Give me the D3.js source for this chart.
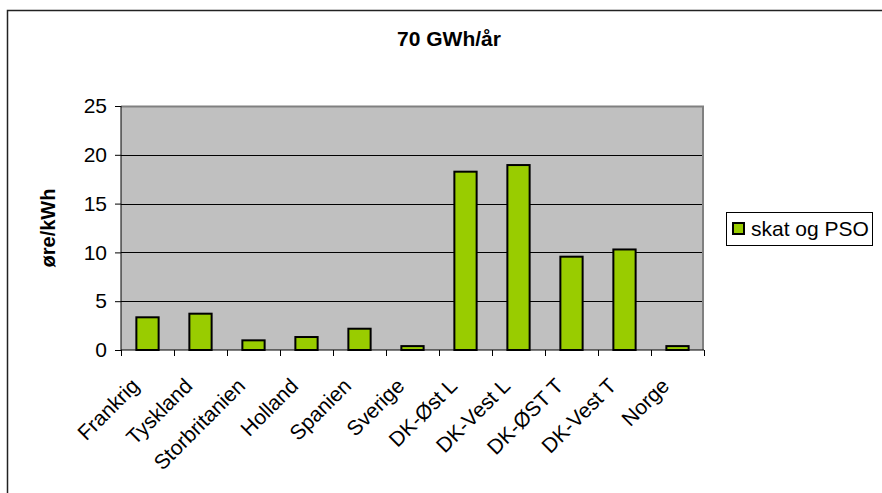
<!DOCTYPE html>
<html>
<head>
<meta charset="utf-8">
<style>
  body { margin:0; background:#fff; }
  svg text { font-family: "Liberation Sans", Arial, sans-serif; fill:#000; }
  .grid line { stroke:#000; stroke-width:1; }
  .bar { fill:#99cc00; stroke:#000; stroke-width:2; }
  .axis path, .axis line { stroke:#000; }
  .axis text { font-size:21px; }
</style>
</head>
<body>
<svg width="882" height="493"></svg>
<script src="https://cdn.jsdelivr.net/npm/d3@7"></script>
<script>

var categories = ["Frankrig","Tyskland","Storbritanien","Holland","Spanien","Sverige",
                  "DK-Øst L","DK-Vest L","DK-ØST T","DK-Vest T","Norge"]
var values = [3.35, 3.72, 0.99, 1.33, 2.18, 0.4, 18.27, 18.95, 9.56, 10.3, 0.4]
var yTicks = [0, 5, 10, 15, 20, 25]
var seriesName = "skat og PSO"
var title = "70 GWh/år"
var yLabel = "øre/kWh"

var svg = d3.select("svg"),
    margin = {left:121, top:106, right:178, bottom:143},
    width = +svg.attr("width") - margin.left - margin.right,
    height = +svg.attr("height") - margin.top - margin.bottom

// outer frame
svg.append("rect")
  .attr("x", 7.5).attr("y", 10.5)
  .attr("width", 900).attr("height", 600)
  .attr("fill", "#fff").attr("stroke", "#222").attr("stroke-width", 1.5)

svg.append("text")
  .attr("x", 449).attr("y", 46)
  .attr("text-anchor", "middle")
  .style("font-size", "21px").style("font-weight", "bold")
  .text(title)

var x = d3.scaleBand().domain(categories).range([0, width]).paddingInner(0.58).paddingOuter(0.29)
var y = d3.scaleLinear().domain([0, 25]).range([height, 0])

var g = svg.append("g").attr("transform", "translate(" + margin.left + "," + margin.top + ")")

g.append("rect")
  .attr("width", width).attr("height", height)
  .attr("fill", "#c0c0c0")

g.append("g").attr("class", "grid")
  .selectAll("line")
  .data(yTicks.slice(1, -1))
  .enter().append("line")
  .attr("x1", 0).attr("x2", width)
  .attr("y1", function(d) { return Math.round(y(d)) + 0.5 })
  .attr("y2", function(d) { return Math.round(y(d)) + 0.5 })

// gray top and right edges of the plot area
g.append("path")
  .attr("d", "M0,0.5H" + (width - 1) + "V" + height)
  .attr("fill", "none").attr("stroke", "#808080").attr("stroke-width", 2)

g.selectAll(".bar")
  .data(values)
  .enter().append("rect")
  .attr("class", "bar")
  .attr("x", function(d, i) { return x(categories[i]) })
  .attr("width", x.bandwidth())
  .attr("y", function(d) { return y(d) })
  .attr("height", function(d) { return height - y(d) })

// y axis
var yAxis = g.append("g").attr("class", "axis")
  .call(d3.axisLeft(y).tickValues(yTicks).tickSize(6).tickPadding(8))
yAxis.select(".domain").attr("d", "M0,0V" + height)

// x axis with ticks at category boundaries
var xAxis = g.append("g").attr("class", "axis")
  .attr("transform", "translate(0," + height + ")")
xAxis.append("line").attr("x1", 0).attr("x2", width).attr("stroke", "#000")
xAxis.selectAll(".xt")
  .data(d3.range(categories.length + 1))
  .enter().append("line")
  .attr("x1", function(d) { return Math.round(d * width / categories.length) + 0.5 })
  .attr("x2", function(d) { return Math.round(d * width / categories.length) + 0.5 })
  .attr("y1", 0).attr("y2", 6)
  .attr("stroke", "#000")

xAxis.selectAll(".xl")
  .data(categories)
  .enter().append("text")
  .attr("text-anchor", "end")
  .style("font-size", "21px")
  .attr("transform", function(d) {
    var cx = x(d) + x.bandwidth() / 2
    return "translate(" + (cx - 18) + "," + 26 + ") rotate(-45)"
  })
  .attr("dy", "0.75em")
  .text(function(d) { return d })

// y label
svg.append("text")
  .attr("transform", "translate(55," + (margin.top + height / 2) + ") rotate(-90)")
  .attr("text-anchor", "middle")
  .style("font-size", "20px").style("font-weight", "bold")
  .text(yLabel)

// legend
var lg = svg.append("g").attr("transform", "translate(726,212)")
lg.append("rect").attr("x", 0.5).attr("y", 0.5).attr("width", 146).attr("height", 33)
  .attr("fill", "#fff").attr("stroke", "#000")
lg.append("rect").attr("class", "bar").attr("x", 7).attr("y", 11).attr("width", 11).attr("height", 11)
lg.append("text").attr("x", 25).attr("y", 24).style("font-size", "21px").text(seriesName)

</script>
</body>
</html>
